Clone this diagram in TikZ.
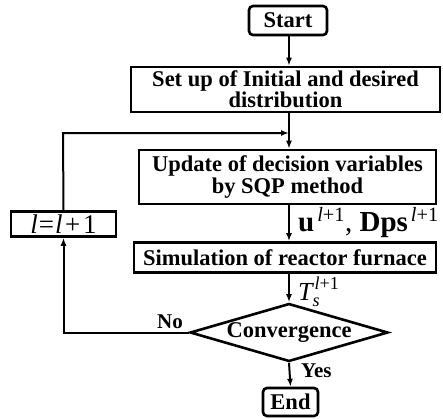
\documentclass[tikz,border=0pt]{standalone}
\usepackage{fontspec}
\setmainfont{Liberation Serif}
\usepackage{amsmath}
\usetikzlibrary{arrows.meta,shapes.geometric}
\begin{document}
\begin{tikzpicture}[x=1pt,y=-1pt,
  box/.style={draw,line width=2.6pt,inner sep=0pt,align=center,
    font=\fontsize{22.5}{21}\selectfont\bfseries},
  rbox/.style={box,rounded corners=4pt},
  flow/.style={line width=2pt,-{Latex[length=8pt,width=6pt]}},
  lbl/.style={anchor=base west,inner sep=0pt}]
\useasboundingbox (0,0) rectangle (443,418);
\coordinate (axis) at (289,0);
\node[rbox,minimum width=78,minimum height=29] (start) at (288,20.5) {Start};
\node[box,minimum width=309,minimum height=45] (setup) at (285.5,89.5) {Set up of Initial and desired\\distribution};
\node[box,minimum width=297,minimum height=54] (update) at (287.5,177) {Update of decision variables\\by SQP method};
\node[box,minimum width=302,minimum height=30] (sim) at (285,257.5) {Simulation of reactor furnace};
\node[box,shape=diamond,aspect=3.4,minimum width=198,minimum height=58] (conv) at (289,332.5) {Convergence};
\node[box,rounded corners=4pt,minimum width=55,minimum height=28] (end) at (290.5,402) {End};
\node[box,minimum width=105,minimum height=25,font=\fontsize{27}{27}\selectfont] (inc) at (63.5,224) {\textit{l}\kern1pt=\kern1pt\textit{l}\kern2.5pt+\kern3pt1};
\coordinate (ftop) at (63,133);
\draw[flow] (start.south -| axis) -- (setup.north -| axis);
\draw[flow] (setup.south -| axis) -- (update.north -| axis);
\draw[flow] (inc.north) -- (ftop) -- (ftop -| axis);
\draw[flow] (update.south -| axis) -- (sim.north -| axis);
\draw[flow] (sim.south -| axis) -- (conv.north);
\draw[flow] (conv.south) -- (end.north);
\draw[flow] (conv.west) -| (inc.south);
\node[lbl,font=\fontsize{29}{29}\selectfont] (ulab) at (298,231) {\textbf{u}\kern3pt\textsuperscript{\textit{l}+1}, \textbf{Dps}\kern3pt\textsuperscript{\textit{l}+1}};
\node[lbl,font=\fontsize{26}{26}\selectfont] (tlab) at (298,300) {$\textit{T}_{\textit{s}}^{\kern2pt\textit{l}\textrm{+1}}$};
\node[lbl,font=\fontsize{21}{21}\selectfont\bfseries] (no) at (157,328) {No};
\node[lbl,font=\fontsize{21}{21}\selectfont\bfseries] (yes) at (301,377) {Yes};
\end{tikzpicture}
\end{document}
